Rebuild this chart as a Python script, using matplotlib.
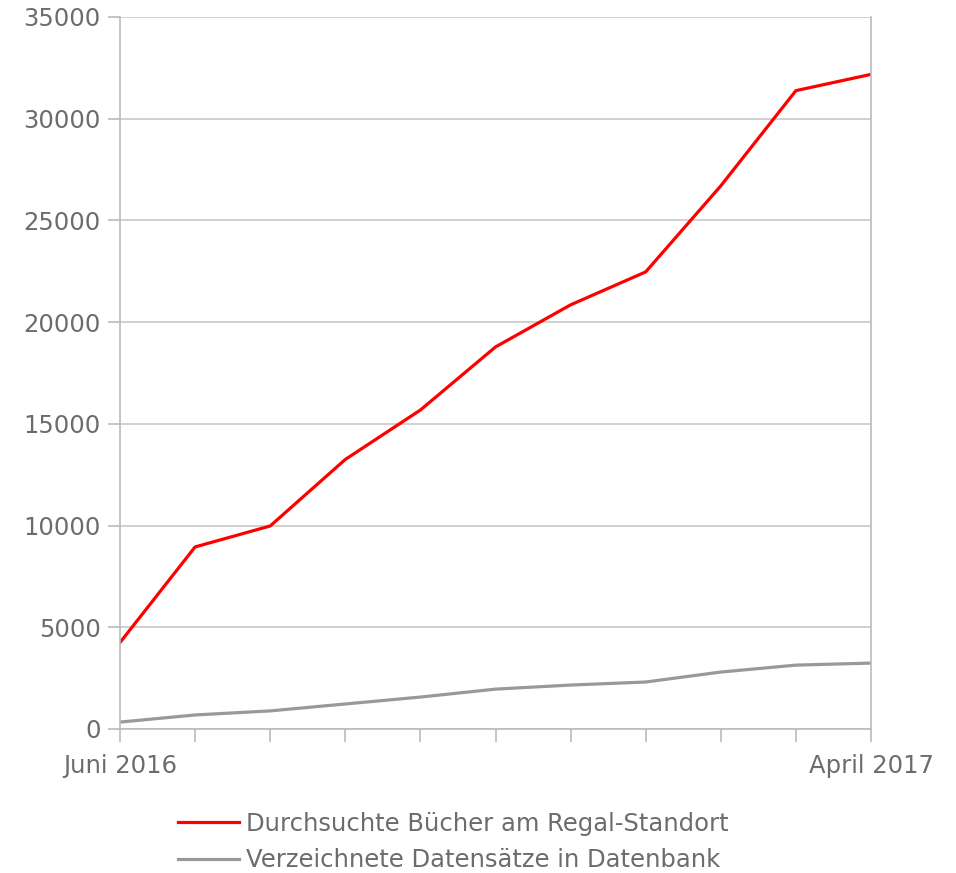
import matplotlib
matplotlib.use("Agg")
import matplotlib.pyplot as plt

months = ["Juni 2016", "Juli", "August", "September", "Oktober", "November",
          "Dezember", "Januar", "Februar", "März", "April 2017"]
buecher = [4250, 8950, 9980, 13250, 15680, 18780, 20850, 22470, 26700, 31380, 32180]
datensaetze = [340, 690, 890, 1230, 1570, 1960, 2160, 2310, 2800, 3140, 3240]

plt.rcParams['font.family'] = ['DejaVu Sans']
txt = '#6c6c6c'
axc = '#bbbbbb'

fig = plt.figure(figsize=(9.56, 8.73), dpi=100)
ax = fig.add_axes([120/956, 1-729/873, (871-120)/956, (729-17)/873])

x = list(range(len(months)))
ax.plot(x, buecher, color='#ff0000', lw=2.3, label='Durchsuchte Bücher am Regal-Standort',
        solid_joinstyle='round')
ax.plot(x, datensaetze, color='#999999', lw=2.3, label='Verzeichnete Datensätze in Datenbank',
        solid_joinstyle='round')

ax.set_xlim(0, len(months) - 1)
ax.set_ylim(0, 35000)
ax.set_yticks(range(0, 35001, 5000))
ax.set_xticks(x)
ax.set_xticklabels([m if i in (0, len(months) - 1) else '' for i, m in enumerate(months)])
ax.grid(axis='y', color='#c8c8c8', lw=1.2)
ax.set_axisbelow(True)
for s in ['left', 'right', 'bottom']:
    ax.spines[s].set_color(axc)
    ax.spines[s].set_linewidth(1.2)
ax.spines['top'].set_visible(False)
ax.tick_params(colors=axc, labelcolor=txt, labelsize=17.5, length=9, width=1.2)
ax.tick_params(axis='y', pad=5)
ax.tick_params(axis='x', pad=9)

fig.legend(loc='upper left', bbox_to_anchor=(178/956, 1-812/873), frameon=False,
           fontsize=17.5, labelcolor=txt, handlelength=2.5, handletextpad=0.3,
           labelspacing=0.5, borderpad=0, borderaxespad=0)

fig.savefig('out.png', dpi=100, facecolor='white')
